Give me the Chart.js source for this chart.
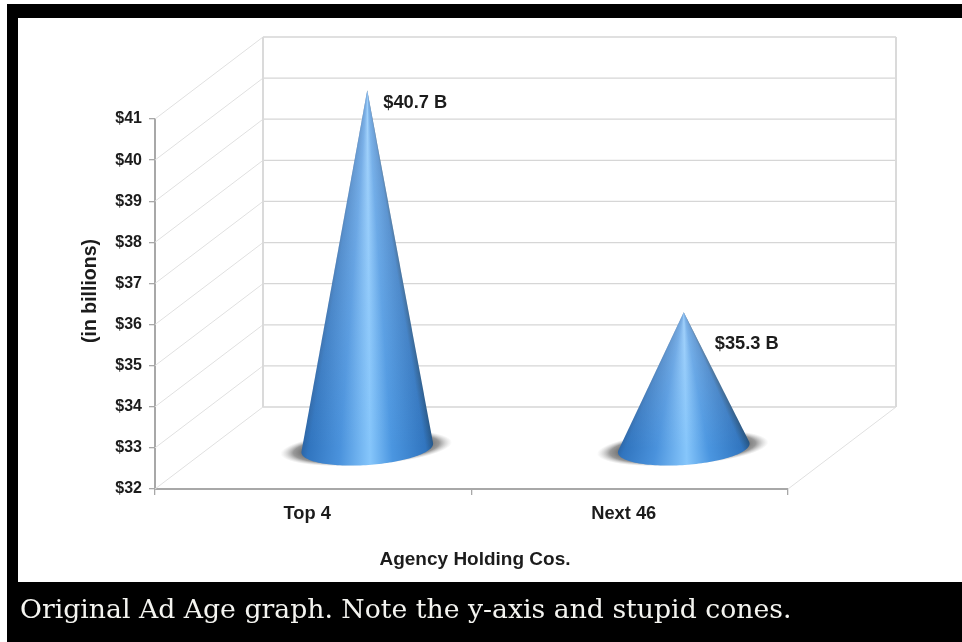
<!DOCTYPE html>
<html>
<head>
<meta charset="utf-8">
<title>Ad Age graph</title>
<script src="https://cdn.jsdelivr.net/npm/chart.js@4"></script>
<style>
    html, body { margin: 0; padding: 0; background: #fff; width: 962px; height: 642px; overflow: hidden; }
    #frame { position: absolute; left: 7px; top: 4px; width: 955px; height: 638px; background: #000; }
    #panel { position: absolute; left: 18px; top: 18px; width: 944px; height: 564px; background: #fff; }
    #chart { position: absolute; left: 0; top: 0; }
    #caption {
        position: absolute; left: 20px; top: 587px; color: #f4f4f0; white-space: nowrap;
        font-family: "DejaVu Serif", serif; font-size: 26.7px; line-height: 44px;
    }
</style>
</head>
<body>
<div id="frame"></div>
<div id="panel"></div>
<canvas id="chart" width="962" height="642"></canvas>
<div id="caption">Original Ad Age graph. Note the y-axis and stupid cones.</div>
<script>
const categories = ['Top 4', 'Next 46'];
const values = [40.7, 35.3];
const valueLabels = ['$40.7 B', '$35.3 B'];
const yMin = 32;
const yMax = 41;
const yTitle = '(in billions)';
const xTitle = 'Agency Holding Cos.';

// 3d look of the original
const depthX = 108, depthY = -82;
const coneRx = 66, coneRy = 17, coneTilt = -0.07;
const labelOffsets = [[16, 13], [31, 32]];
const wallColor = '#d6d6d6', sideColor = '#e0e0e0', axisColor = '#a8a8a8';
const boldFont = '"Liberation Sans", Arial, sans-serif';

// left to right shading across the cone
const shade = [
    [0, '#2a5f9c'],
    [0.07, '#3175bf'],
    [0.3, '#4a92dc'],
    [0.52, '#86c6fb'],
    [0.68, '#4b96e0'],
    [0.93, '#3175bf'],
    [1, '#24527f']
];

function drawCone(ctx, x, topY, baseY) {
    // soft shadow on the floor
    ctx.save();
    ctx.translate(x - 1, baseY);
    ctx.rotate(coneTilt);
    ctx.scale(1, 0.2);
    const sh = ctx.createRadialGradient(0, 0, 60, 0, 0, 86);
    sh.addColorStop(0, 'rgba(80,80,80,0.9)');
    sh.addColorStop(0.5, 'rgba(110,110,110,0.7)');
    sh.addColorStop(1, 'rgba(180,180,180,0)');
    ctx.fillStyle = sh;
    ctx.beginPath();
    ctx.arc(0, 0, 86, 0, Math.PI * 2);
    ctx.fill();
    ctx.restore();

    // outline: apex down to the tangent points, round the front of the base
    const cos = Math.cos(coneTilt), sin = Math.sin(coneTilt);
    const point = a => {
        const ex = coneRx * Math.cos(a), ey = coneRy * Math.sin(a);
        return [x + ex * cos - ey * sin, baseY + ex * sin + ey * cos];
    };
    const start = -Math.asin(coneRy / (baseY - topY));
    ctx.save();
    ctx.beginPath();
    ctx.moveTo(x, topY);
    for (let i = 0; i <= 80; i++) {
        const p = point(start + (Math.PI - 2 * start) * i / 80);
        ctx.lineTo(p[0], p[1]);
    }
    ctx.closePath();
    ctx.clip();

    // shading follows rays from the apex
    const rays = ctx.createConicGradient(0, x, topY);
    const h = baseY - topY;
    for (let i = shade.length - 1; i >= 0; i--) {
        const dx = (2 * shade[i][0] - 1) * (coneRx + 2);
        rays.addColorStop(Math.atan2(h, dx) / (Math.PI * 2), shade[i][1]);
    }
    ctx.fillStyle = rays;
    ctx.fillRect(x - coneRx - 6, topY - 2, coneRx * 2 + 12, h + coneRy + 8);

    // paler towards the tip
    const pale = ctx.createLinearGradient(x, topY, x, baseY);
    pale.addColorStop(0, 'rgba(200,225,250,0.45)');
    pale.addColorStop(0.5, 'rgba(200,225,250,0.22)');
    pale.addColorStop(1, 'rgba(200,225,250,0)');
    ctx.fillStyle = pale;
    ctx.fillRect(x - coneRx - 6, topY - 2, coneRx * 2 + 12, h + coneRy + 8);
    ctx.restore();
}

const conePlugin = {
    id: 'cones',
    beforeDatasetsDraw(chart) {
        const { ctx, chartArea, scales } = chart;
        const y = scales.y;
        const left = chartArea.left, right = chartArea.right, bottom = chartArea.bottom;
        ctx.save();
        // side wall and back wall grid, one line per tick
        y.ticks.forEach(t => {
            const py = y.getPixelForValue(t.value);
            ctx.strokeStyle = sideColor;
            ctx.lineWidth = 1;
            ctx.beginPath();
            ctx.moveTo(left, py);
            ctx.lineTo(left + depthX, py + depthY);
            ctx.stroke();
            ctx.strokeStyle = wallColor;
            ctx.lineWidth = 1.3;
            ctx.beginPath();
            ctx.moveTo(left + depthX, py + depthY);
            ctx.lineTo(right + depthX, py + depthY);
            ctx.stroke();
        });
        const topY = y.getPixelForValue(yMax) + depthY;
        const backY = y.getPixelForValue(yMin) + depthY;
        ctx.strokeStyle = '#dadada';
        ctx.lineWidth = 2;
        ctx.beginPath();
        ctx.moveTo(left + depthX, topY);
        ctx.lineTo(left + depthX, backY);
        ctx.moveTo(right + depthX, topY);
        ctx.lineTo(right + depthX, backY);
        ctx.stroke();
        // floor edge on the right
        ctx.strokeStyle = sideColor;
        ctx.lineWidth = 1;
        ctx.beginPath();
        ctx.moveTo(right, bottom);
        ctx.lineTo(right + depthX, backY);
        ctx.stroke();
        ctx.restore();
    },
    afterDatasetsDraw(chart) {
        const { ctx, scales } = chart;
        const y = scales.y;
        const bars = chart.getDatasetMeta(0).data;
        ctx.save();
        // cones stand halfway into the depth
        bars.forEach((bar, i) => {
            const cx = bar.x + depthX / 2;
            const apex = bar.y + depthY / 2;
            const base = y.getPixelForValue(yMin) + depthY / 2;
            drawCone(ctx, cx, apex, base);
            ctx.fillStyle = '#1c1c1c';
            ctx.font = 'bold 18.3px ' + boldFont;
            ctx.textAlign = 'left';
            ctx.textBaseline = 'middle';
            ctx.fillText(valueLabels[i], cx + labelOffsets[i][0], apex + labelOffsets[i][1]);
        });
        // axis titles sit off centre in the original
        ctx.fillStyle = '#1c1c1c';
        ctx.textAlign = 'center';
        ctx.textBaseline = 'middle';
        ctx.font = 'bold 19px ' + boldFont;
        ctx.fillText(xTitle, 475, 560);
        ctx.translate(91, 291);
        ctx.rotate(-Math.PI / 2);
        ctx.font = 'bold 19.5px ' + boldFont;
        ctx.fillText(yTitle, 0, 0);
        ctx.restore();
    }
};

new Chart(document.getElementById('chart'), {
    type: 'bar',
    data: {
        labels: categories,
        datasets: [{
            data: values,
            backgroundColor: 'rgba(0,0,0,0)',
            borderWidth: 0
        }]
    },
    options: {
        responsive: false,
        animation: false,
        devicePixelRatio: 1,
        layout: { padding: { left: 100, right: 174, top: 119, bottom: 72 } },
        plugins: {
            legend: { display: false },
            tooltip: { enabled: false }
        },
        scales: {
            x: {
                afterFit: s => { s.height = 81; },
                grid: { drawOnChartArea: false, color: axisColor, tickLength: 6, lineWidth: 1.3 },
                border: { color: axisColor, width: 2 },
                ticks: {
                    color: '#1c1c1c',
                    font: { family: boldFont, weight: 'bold', size: 18.3 },
                    padding: 8,
                    labelOffset: -6,
                    maxRotation: 0
                }
            },
            y: {
                min: yMin,
                max: yMax,
                afterFit: s => { s.width = 55; },
                grid: { drawOnChartArea: false, color: axisColor, tickLength: 6, lineWidth: 1.3 },
                border: { color: axisColor, width: 2 },
                ticks: {
                    stepSize: 1,
                    color: '#1c1c1c',
                    font: { family: boldFont, weight: 'bold', size: 16 },
                    padding: 7,
                    callback: v => '$' + v
                }
            }
        }
    },
    plugins: [conePlugin]
});
</script>
</body>
</html>
